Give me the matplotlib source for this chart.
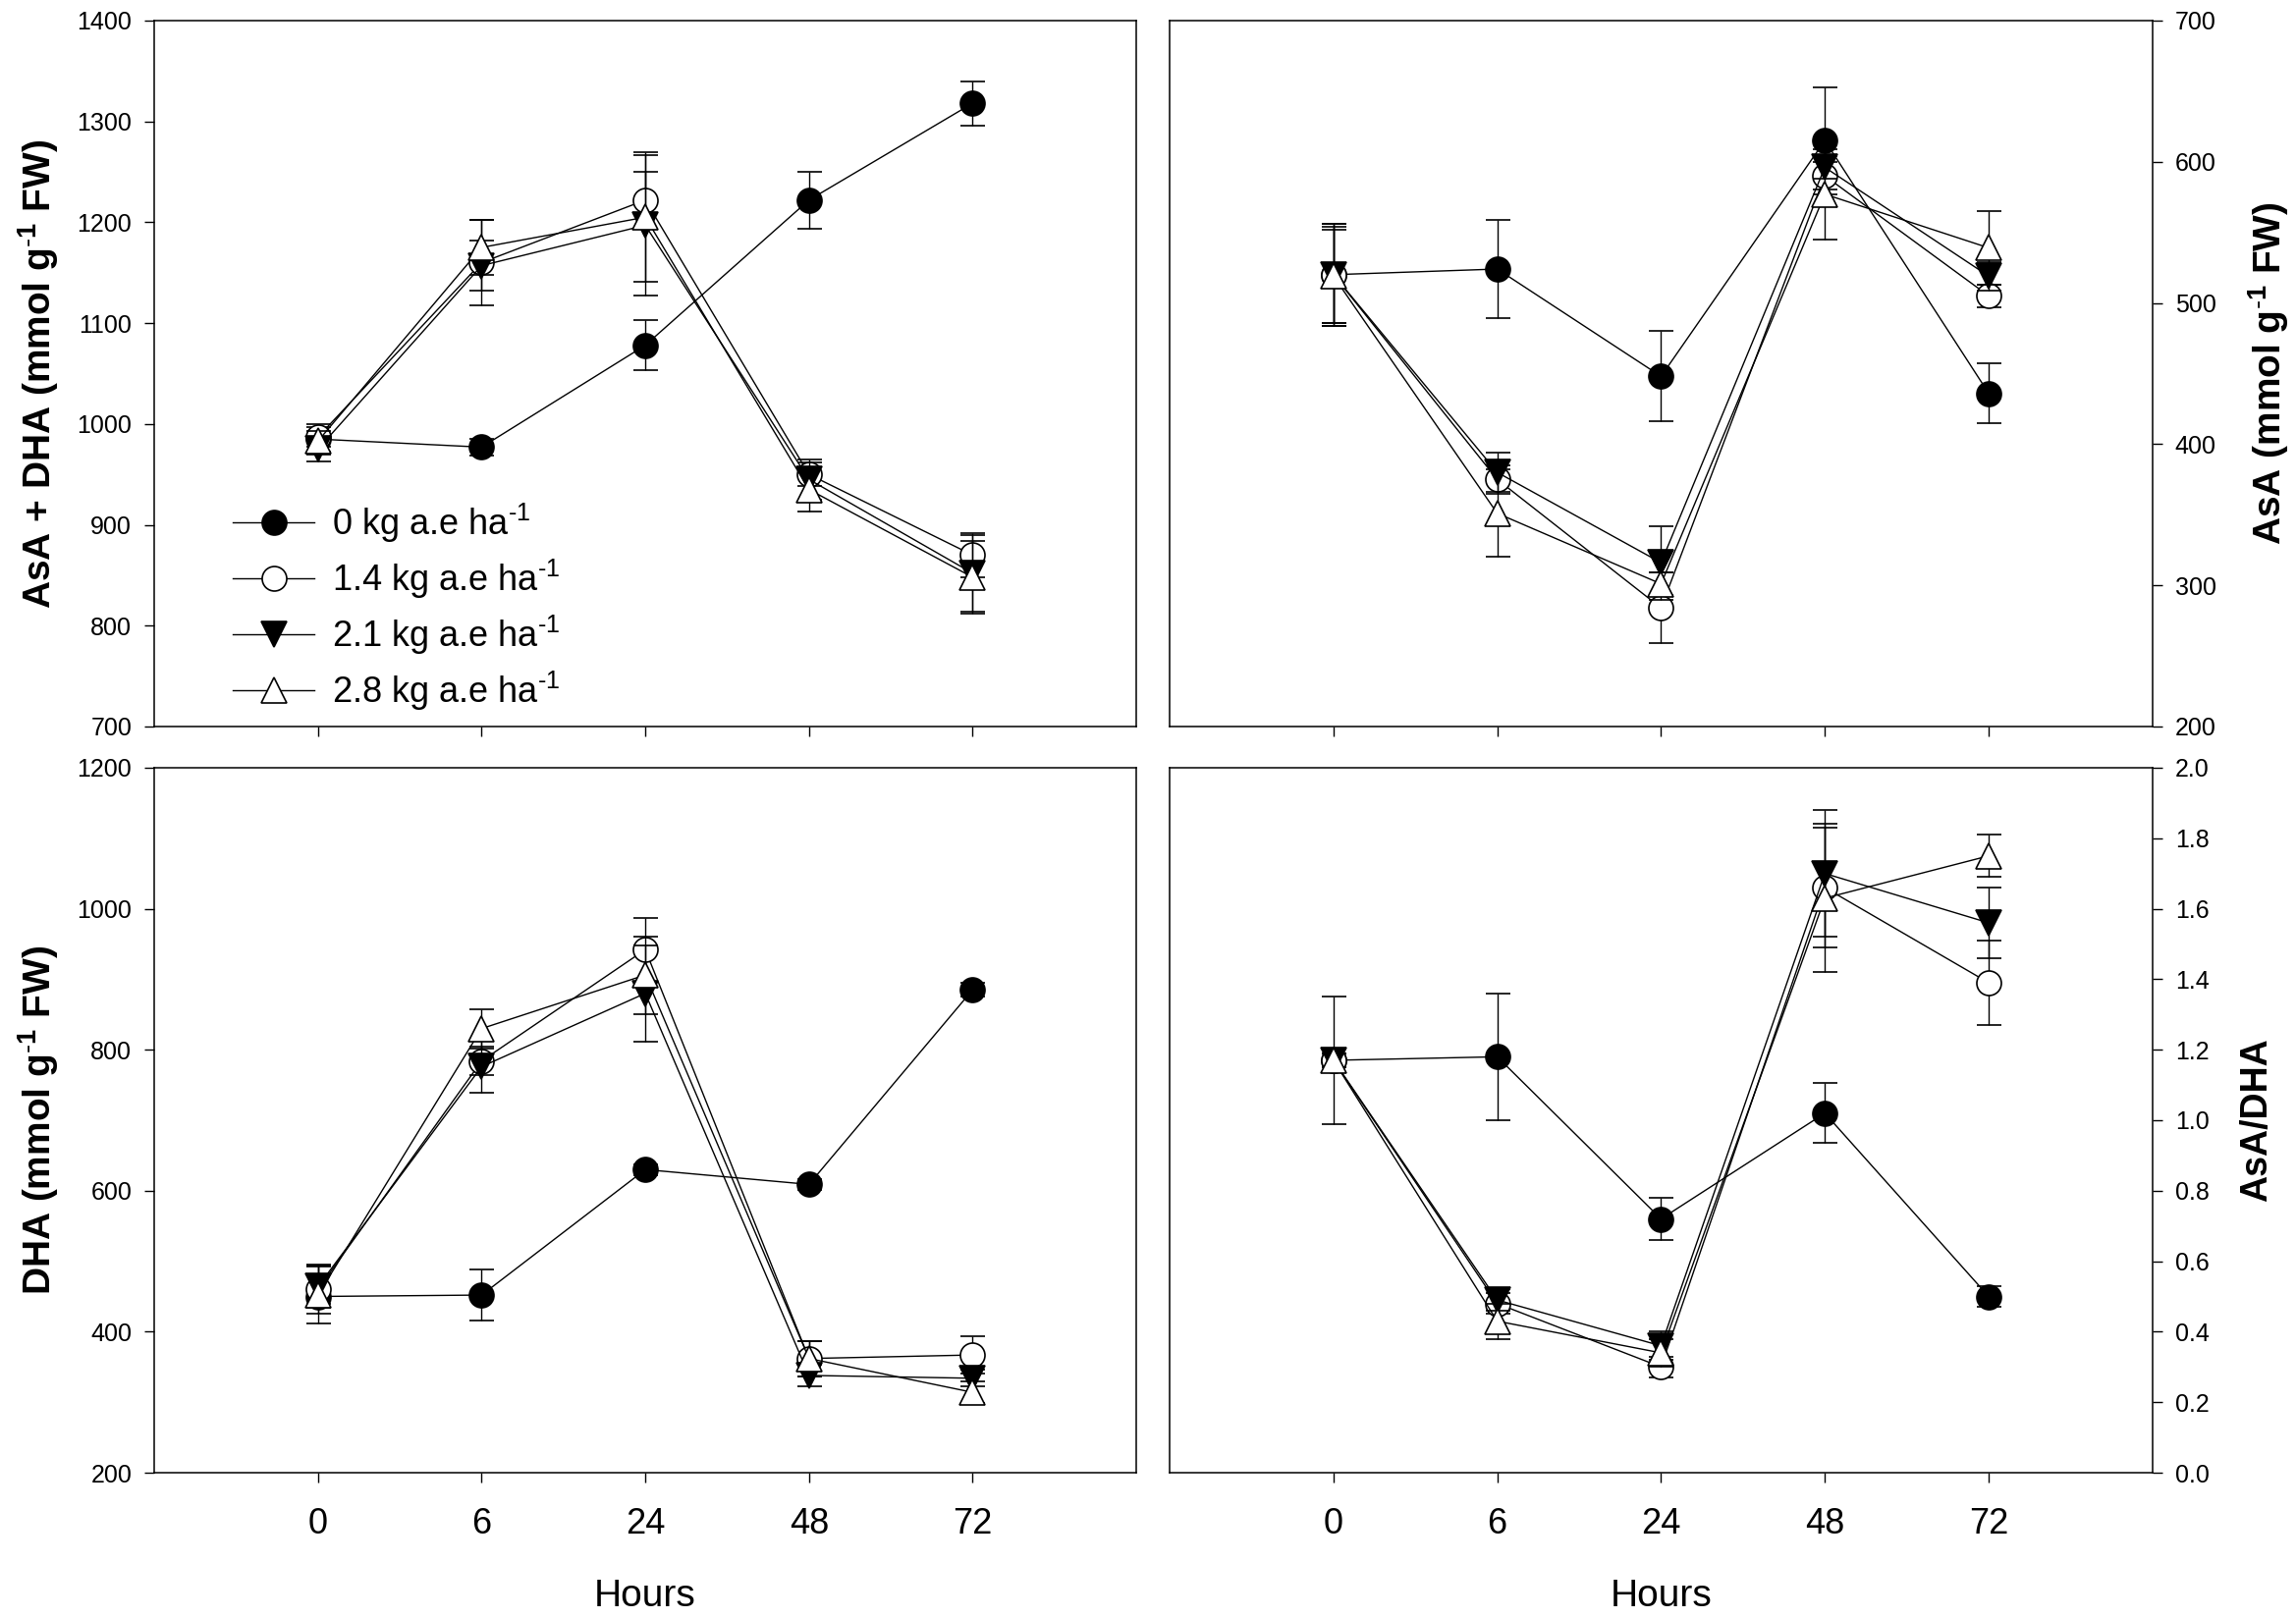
import matplotlib
matplotlib.use('Agg')
import matplotlib.pyplot as plt
from matplotlib import font_manager

plt.rcParams['font.family'] = ['Liberation Sans', 'DejaVu Sans']
plt.rcParams['mathtext.fontset'] = 'custom'
plt.rcParams['mathtext.rm'] = 'Liberation Sans'
plt.rcParams['mathtext.it'] = 'Liberation Sans:italic'
plt.rcParams['mathtext.bf'] = 'Liberation Sans:bold'

# x tick labels and "Hours" are in a condensed face in the original
installed = {f.name for f in font_manager.fontManager.ttflist}
if 'Liberation Sans Narrow' in installed:
    narrow = 'Liberation Sans Narrow'
    xtick_size, xlab_size = 31, 33
else:
    narrow = 'Liberation Sans'
    xtick_size, xlab_size = 26, 28

# sampling times (categorical axis)
hours = ['0', '6', '24', '48', '72']
doses = ['0', '1.4', '2.1', '2.8']

# AsA + DHA
tot_0 = [985, 977, 1078, 1222, 1318]
tot_0_err = [15, 8, 25, 28, 22]
tot_14 = [987, 1160, 1222, 950, 870]
tot_14_err = [10, 42, 28, 12, 22]
tot_21 = [975, 1157, 1197, 945, 852]
tot_21_err = [12, 25, 70, 20, 38]
tot_28 = [983, 1175, 1205, 935, 848]
tot_28_err = [10, 27, 64, 22, 36]

# AsA
asa_0 = [520, 524, 448, 615, 436]
asa_0_err = [36, 35, 32, 38, 21]
asa_14 = [520, 375, 284, 590, 505]
asa_14_err = [36, 10, 25, 10, 8]
asa_21 = [520, 380, 316, 596, 519]
asa_21_err = [34, 14, 26, 8, 10]
asa_28 = [519, 351, 301, 577, 539]
asa_28_err = [33, 31, 8, 32, 26]

# DHA
dha_0 = [450, 452, 630, 609, 885]
dha_0_err = [10, 36, 8, 8, 10]
dha_14 = [460, 784, 942, 362, 367]
dha_14_err = [35, 20, 45, 25, 26]
dha_21 = [464, 776, 880, 338, 334]
dha_21_err = [30, 37, 68, 15, 12]
dha_28 = [452, 830, 906, 362, 314]
dha_28_err = [40, 28, 55, 25, 15]

# AsA/DHA
rat_0 = [1.17, 1.18, 0.72, 1.02, 0.50]
rat_0_err = [0.18, 0.18, 0.06, 0.085, 0.03]
rat_14 = [1.17, 0.48, 0.30, 1.66, 1.39]
rat_14_err = [0.02, 0.03, 0.03, 0.17, 0.12]
rat_21 = [1.17, 0.49, 0.36, 1.70, 1.56]
rat_21_err = [0.02, 0.03, 0.04, 0.18, 0.10]
rat_28 = [1.17, 0.43, 0.34, 1.63, 1.75]
rat_28_err = [0.02, 0.05, 0.04, 0.21, 0.06]

styles = [
    dict(marker='o', mfc='black', ms=18),
    dict(marker='o', mfc='white', ms=18),
    dict(marker='v', mfc='black', ms=19),
    dict(marker='^', mfc='white', ms=19),
]

SUP_BOLD = '$^{\\text{-}\\mathbf{1}}$'
SUP = '$^{\\text{-}1}$'

fig = plt.figure(figsize=(23.38, 16.48), dpi=100)
ax_tl = fig.add_axes([0.0672, 0.5510, 0.4277, 0.4363])
ax_tr = fig.add_axes([0.5094, 0.5510, 0.4281, 0.4363])
ax_bl = fig.add_axes([0.0672, 0.0898, 0.4277, 0.4357])
ax_br = fig.add_axes([0.5094, 0.0898, 0.4281, 0.4357])

x = list(range(len(hours)))


def draw(ax, series):
    conts = []
    for i, (vals, errs) in enumerate(series):
        st = styles[i]
        c = ax.errorbar(x, vals, yerr=errs, color='black', lw=1.0, elinewidth=1.0,
                        capsize=9, capthick=1.0, marker=st['marker'], ms=st['ms'],
                        mfc=st['mfc'], mec='black', mew=1.2, zorder=3 + i)
        conts.append(c)
    ax.set_xlim(-1, 5)
    ax.set_xticks(x)
    for s in ax.spines.values():
        s.set_linewidth(1.1)
    ax.tick_params(axis='both', direction='out', length=7.5, width=1.0)
    ax.tick_params(axis='y', labelsize=18, pad=9)
    ax.tick_params(axis='x', labelsize=xtick_size, pad=18)
    return conts


def bottom_axis(ax):
    ax.set_xticklabels(hours, fontfamily=narrow)
    ax.set_xlabel('Hours', fontsize=xlab_size, fontfamily=narrow, labelpad=27)


conts = draw(ax_tl, [(tot_0, tot_0_err), (tot_14, tot_14_err),
                     (tot_21, tot_21_err), (tot_28, tot_28_err)])
ax_tl.set_ylim(700, 1400)
ax_tl.set_yticks(range(700, 1401, 100))
ax_tl.set_xticklabels([])
ax_tl.set_ylabel('AsA + DHA (mmol g' + SUP_BOLD + ' FW)', fontsize=28,
                 fontweight='bold', labelpad=12)
ax_tl.legend([c.lines[0] for c in conts],
             [d + ' kg a.e ha' + SUP for d in doses],
             loc='lower left', bbox_to_anchor=(0.08, 0.02), frameon=False,
             fontsize=26, borderpad=0, borderaxespad=0, handlelength=2.3,
             handletextpad=0.5, labelspacing=0.35)

draw(ax_tr, [(asa_0, asa_0_err), (asa_14, asa_14_err),
             (asa_21, asa_21_err), (asa_28, asa_28_err)])
ax_tr.set_ylim(200, 700)
ax_tr.set_yticks(range(200, 701, 100))
ax_tr.set_xticklabels([])
ax_tr.yaxis.tick_right()
ax_tr.yaxis.set_label_position('right')
ax_tr.set_ylabel('AsA (mmol g' + SUP_BOLD + ' FW)', fontsize=28,
                 fontweight='bold', labelpad=22)

draw(ax_bl, [(dha_0, dha_0_err), (dha_14, dha_14_err),
             (dha_21, dha_21_err), (dha_28, dha_28_err)])
ax_bl.set_ylim(200, 1200)
ax_bl.set_yticks(range(200, 1201, 200))
bottom_axis(ax_bl)
ax_bl.set_ylabel('DHA (mmol g' + SUP_BOLD + ' FW)', fontsize=28,
                 fontweight='bold', labelpad=12)

draw(ax_br, [(rat_0, rat_0_err), (rat_14, rat_14_err),
             (rat_21, rat_21_err), (rat_28, rat_28_err)])
ax_br.set_ylim(0, 2.0)
ax_br.set_yticks([i / 10 for i in range(0, 21, 2)])
ax_br.set_yticklabels(['%.1f' % (i / 10) for i in range(0, 21, 2)])
bottom_axis(ax_br)
ax_br.yaxis.tick_right()
ax_br.yaxis.set_label_position('right')
ax_br.set_ylabel('AsA/DHA', fontsize=27, fontweight='bold', labelpad=22)

fig.savefig('out.png', dpi=100)
